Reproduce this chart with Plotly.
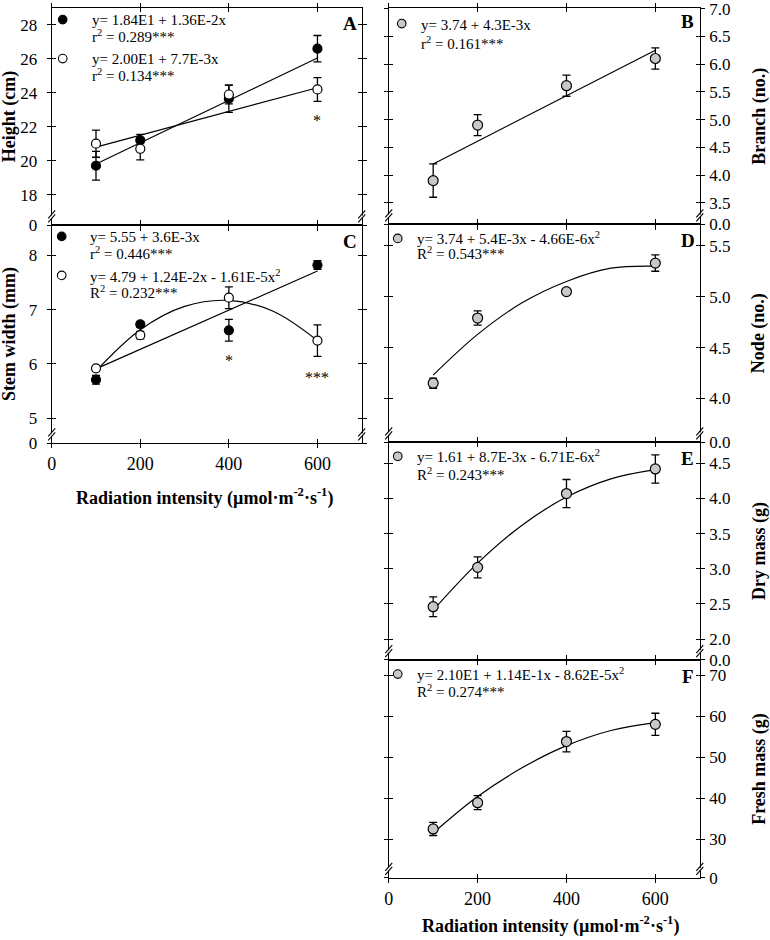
import plotly.graph_objects as go

W, H = 770, 940
FONT = "Liberation Serif, Times New Roman, serif"

# ---------------- data ----------------
radiation = [100, 200, 400, 600]
x_ticks = [0, 200, 400, 600]
x_ticktext = ["0", "200", "400", "600"]
fit_x_lin = [100, 600]
fit_x_quad = [100, 200, 300, 400, 500, 600]

# A: Height (cm)
height_closed = [19.7, 21.2, 23.65, 26.6]
height_closed_err = [0.85, 0.35, 0.8, 0.78]
height_open = [21.0, 20.7, 23.9, 24.2]
height_open_err = [0.8, 0.65, 0.55, 0.7]
height_fit_closed = [19.8, 26.05]
height_fit_open = [20.8, 24.3]
height_ticks = [18, 20, 22, 24, 26, 28]
height_ticktext = ["18", "20", "22", "24", "26", "28"]

# B: Branch (no.)
branch = [3.9, 4.9, 5.61, 6.1]
branch_err = [0.3, 0.19, 0.19, 0.19]
branch_fit = [4.2, 6.25]
branch_ticks = [3.5, 4.0, 4.5, 5.0, 5.5, 6.0, 6.5, 7.0]
branch_ticktext = ["3.5", "4.0", "4.5", "5.0", "5.5", "6.0", "6.5", "7.0"]

# C: Stem width (mm)
stem_closed = [5.71, 6.73, 6.62, 7.82]
stem_closed_err = [0.08, 0.05, 0.2, 0.08]
stem_open = [5.92, 6.53, 7.22, 6.43]
stem_open_err = [0.05, 0.07, 0.2, 0.29]
stem_fit_closed = [5.91, 7.71]
stem_fit_open = [5.87, 6.63, 7.06, 7.17, 6.97, 6.43]
stem_ticks = [5, 6, 7, 8]
stem_ticktext = ["5", "6", "7", "8"]

# D: Node (no.)
node = [4.15, 4.79, 5.05, 5.33]
node_err = [0.05, 0.07, 0.02, 0.08]
node_fit = [4.23, 4.63, 4.94, 5.15, 5.28, 5.30]
node_ticks = [4.0, 4.5, 5.0, 5.5]
node_ticktext = ["4.0", "4.5", "5.0", "5.5"]

# E: Dry mass (g)
dry = [2.46, 3.02, 4.07, 4.42]
dry_err = [0.14, 0.15, 0.2, 0.2]
dry_fit = [2.41, 3.08, 3.62, 4.02, 4.28, 4.41]
dry_ticks = [2.0, 2.5, 3.0, 3.5, 4.0, 4.5]
dry_ticktext = ["2.0", "2.5", "3.0", "3.5", "4.0", "4.5"]

# F: Fresh mass (g)
fresh = [32.5, 38.9, 53.8, 58.0]
fresh_err = [1.6, 1.7, 2.5, 2.7]
fresh_fit = [31.5, 40.4, 47.4, 52.8, 56.5, 58.4]
fresh_ticks = [30, 40, 50, 60, 70]
fresh_ticktext = ["30", "40", "50", "60", "70"]

# ---------------- helpers ----------------
# compensation for the way the page gets photographed
Y_OFF, Y_SCALE = 7.4, 0.9816
X_OFF, X_SCALE = 5.3, 0.9934


def fx(p):
    v = ((p - X_OFF) / X_SCALE) / W
    return min(1.0, max(0.0, v))


def fy(p):
    v = 1 - ((p - Y_OFF) / Y_SCALE) / H
    return min(1.0, max(0.0, v))


LEFT = (52, 362)
RIGHT = (389, 700)

panels = [
    dict(n=1, letter="A", col=LEFT, top=7, bot=225, rng=[16.18, 29.0], ticks=height_ticks,
         ticktext=height_ticktext, zero="0", side="left", xlabels=False, title="Height (cm)"),
    dict(n=2, letter="C", col=LEFT, top=225, bot=443, rng=[4.54, 8.55], ticks=stem_ticks,
         ticktext=stem_ticktext, zero="0", side="left", xlabels=True, title="Stem width (mm)"),
    dict(n=3, letter="B", col=RIGHT, top=7, bot=224, rng=[3.11, 7.01], ticks=branch_ticks,
         ticktext=branch_ticktext, zero="0.0", side="right", xlabels=False, title="Branch (no.)"),
    dict(n=4, letter="D", col=RIGHT, top=224, bot=442, rng=[3.57, 5.71], ticks=node_ticks,
         ticktext=node_ticktext, zero="0.0", side="right", xlabels=False, title="Node (no.)"),
    dict(n=5, letter="E", col=RIGHT, top=442, bot=660, rng=[1.70, 4.80], ticks=dry_ticks,
         ticktext=dry_ticktext, zero="0.0", side="right", xlabels=False, title="Dry mass (g)"),
    dict(n=6, letter="F", col=RIGHT, top=660, bot=878, rng=[20.56, 73.66], ticks=fresh_ticks,
         ticktext=fresh_ticktext, zero="0", side="right", xlabels=True, title="Fresh mass (g)"),
]

fig = go.Figure()
layout = dict(
    width=W, height=H, margin=dict(l=0, r=0, t=0, b=0),
    paper_bgcolor="white", plot_bgcolor="white", showlegend=False,
    font=dict(family=FONT, color="black", size=15),
)
shapes = []
annotations = []

for p in panels:
    n = p["n"]
    o = n + 6
    xdom = [fx(p["col"][0]), fx(p["col"][1])]
    ydom = [fy(p["bot"]), fy(p["top"])]
    ytv = [p["rng"][0] + 0.0005 * (p["rng"][1] - p["rng"][0])] + p["ticks"]
    ytt = [p["zero"]] + p["ticktext"]
    common = dict(showgrid=False, zeroline=False, showline=True, linecolor="black",
                  linewidth=1.3, ticklen=4, tickwidth=1.2, tickcolor="black", mirror="ticks")
    layout[f"xaxis{n}"] = dict(domain=xdom, anchor=f"y{n}", range=[0, 700], tickmode="array",
                               tickvals=x_ticks, ticktext=x_ticktext, ticks="outside",
                               showticklabels=p["xlabels"], tickfont=dict(size=18, family=FONT),
                               ticklabelstandoff=0, ticklabeloverflow="allow", **common)
    layout[f"yaxis{n}"] = dict(domain=ydom, anchor=f"x{n}", range=p["rng"], tickmode="array",
                               tickvals=ytv, ticktext=ytt, ticks="outside", side=p["side"],
                               tickfont=dict(size=17, family=FONT), ticklabeloverflow="allow",
                               ticklabelstandoff=(6 if p["side"] == "left" else 1), **common)
    layout[f"xaxis{o}"] = dict(overlaying=f"x{n}", anchor=f"y{o}", range=[0, 700], tickmode="array",
                               tickvals=x_ticks, ticks="inside", showticklabels=False, **common)
    layout[f"yaxis{o}"] = dict(overlaying=f"y{n}", anchor=f"x{o}", range=p["rng"], tickmode="array",
                               tickvals=ytv, ticks="inside", side=p["side"], showticklabels=False,
                               **common)
    fig.add_trace(go.Scatter(x=[], y=[], xaxis=f"x{o}", yaxis=f"y{o}", hoverinfo="skip"))

    # axis breaks on both vertical sides
    yb = p["bot"]
    for xa in p["col"]:
        shapes.append(dict(type="rect", xref="paper", yref="paper", layer="above",
                           x0=fx(xa - 2), x1=fx(xa + 2), y0=fy(yb - 7.5), y1=fy(yb - 10),
                           fillcolor="white", line=dict(width=0)))
        for d in (0, 4):
            shapes.append(dict(type="line", xref="paper", yref="paper", layer="above",
                               x0=fx(xa - 3.5), y0=fy(yb - 3 - d), x1=fx(xa + 3.5), y1=fy(yb - 11 - d),
                               line=dict(color="black", width=1.1)))

    # panel letter
    annotations.append(dict(xref="paper", yref="paper", x=fx(p["col"][1] - 12),
                            y=fy((p["top"] + 16) if n != 3 else 21), text=f"<b>{p['letter']}</b>",
                            showarrow=False, xanchor="center", yanchor="middle",
                            font=dict(size=19, family=FONT)))
    # y title
    tx = 10 if p["side"] == "left" else 759
    annotations.append(dict(xref="paper", yref="paper", x=fx(tx), y=fy((p["top"] + p["bot"]) / 2),
                            text=f"<b>{p['title']}</b>", textangle=-90, showarrow=False,
                            xanchor="center", yanchor="middle", font=dict(size=18, family=FONT)))


def err(arr):
    return dict(type="data", array=arr, visible=True, color="black", thickness=1.3, width=4)


def fitline(x, y, n, spline=False):
    fig.add_trace(go.Scatter(x=x, y=y, mode="lines", xaxis=f"x{n}", yaxis=f"y{n}",
                             line=dict(color="black", width=1.2,
                                       shape="spline" if spline else "linear"),
                             hoverinfo="skip"))


def pts(y, e, n, fill, size=9):
    fig.add_trace(go.Scatter(x=radiation, y=y, mode="markers", xaxis=f"x{n}", yaxis=f"y{n}",
                             error_y=err(e),
                             marker=dict(color=fill, size=size, line=dict(color="black", width=1.2))))


GRAY = "#c8c8c8"
# A
fitline(fit_x_lin, height_fit_closed, 1)
fitline(fit_x_lin, height_fit_open, 1)
pts(height_closed, height_closed_err, 1, "black")
pts(height_open, height_open_err, 1, "white")
# C
fitline(fit_x_lin, stem_fit_closed, 2)
fitline(fit_x_quad, stem_fit_open, 2, spline=True)
pts(stem_closed, stem_closed_err, 2, "black")
pts(stem_open, stem_open_err, 2, "white")
# B
fitline(fit_x_lin, branch_fit, 3)
pts(branch, branch_err, 3, GRAY, 10)
# D
fitline(fit_x_quad, node_fit, 4, spline=True)
pts(node, node_err, 4, GRAY, 10)
# E
fitline(fit_x_quad, dry_fit, 5, spline=True)
pts(dry, dry_err, 5, GRAY, 10)
# F
fitline(fit_x_quad, fresh_fit, 6, spline=True)
pts(fresh, fresh_err, 6, GRAY, 10)

# significance asterisks
sig = [(1, 600, 22.6, "*"), (2, 400, 6.13, "*"), (2, 600, 5.82, "***")]
for n, xv, yv, t in sig:
    annotations.append(dict(xref=f"x{n}", yref=f"y{n}", x=xv, y=yv, text=t, showarrow=False,
                            yshift=-4, font=dict(size=16, family=FONT)))

# equations (legend swatch, text lines)
eq_blocks = [
    ("black", 63, 19, 90, [("y= 1.84E1 + 1.36E-2x", 19), ("r<sup>2</sup> = 0.289***", 35)]),
    ("white", 63, 58, 90, [("y= 2.00E1 + 7.7E-3x", 58), ("r<sup>2</sup> = 0.134***", 74)]),
    ("black", 62, 236, 88, [("y= 5.55 + 3.6E-3x", 237), ("r<sup>2</sup> = 0.446***", 253)]),
    ("white", 62, 275, 88, [("y= 4.79 + 1.24E-2x - 1.61E-5x<sup>2</sup>", 276),
                            ("R<sup>2</sup> = 0.232***", 292)]),
    (GRAY, 402, 23, 419, [("y= 3.74 + 4.3E-3x", 24), ("r<sup>2</sup> = 0.161***", 42)]),
    (GRAY, 398, 238, 415, [("y= 3.74 + 5.4E-3x - 4.66E-6x<sup>2</sup>", 238),
                           ("R<sup>2</sup> = 0.543***", 253)]),
    (GRAY, 398, 456, 415, [("y= 1.61 + 8.7E-3x - 6.71E-6x<sup>2</sup>", 456),
                           ("R<sup>2</sup> = 0.243***", 474)]),
    (GRAY, 398, 674, 415, [("y= 2.10E1 + 1.14E-1x - 8.62E-5x<sup>2</sup>", 674),
                           ("R<sup>2</sup> = 0.274***", 691)]),
]
for fill, mx, my, tx, lines in eq_blocks:
    r = 4.3
    shapes.append(dict(type="circle", xref="paper", yref="paper", layer="above",
                       x0=fx(mx - r), x1=fx(mx + r), y0=fy(my + r), y1=fy(my - r),
                       fillcolor=fill, line=dict(color="black", width=1.1)))
    for t, ty in lines:
        annotations.append(dict(xref="paper", yref="paper", x=fx(tx), y=fy(ty), text=t,
                                showarrow=False, xanchor="left", yanchor="middle",
                                font=dict(size=15, family=FONT)))

# x titles
xtitle = "<b>Radiation intensity (µmol·m<sup>-2</sup>·s<sup>-1</sup>)</b>"
annotations.append(dict(xref="paper", yref="paper", x=fx(205), y=fy(497), text=xtitle,
                        showarrow=False, xanchor="center", yanchor="middle",
                        font=dict(size=18, family=FONT)))
annotations.append(dict(xref="paper", yref="paper", x=fx(551), y=fy(925), text=xtitle,
                        showarrow=False, xanchor="center", yanchor="middle",
                        font=dict(size=18, family=FONT)))

layout["annotations"] = annotations
layout["shapes"] = shapes
fig.update_layout(**layout)
post = ("document.documentElement.style.margin='0';document.documentElement.style.overflow='hidden';"
        "document.body.style.margin='0';document.body.style.padding='0';document.body.style.overflow='hidden';"
        "var d=document.getElementById('{plot_id}');d.style.position='absolute';d.style.left='0px';d.style.top='0px';")
fig.write_html("out.html", config={"displayModeBar": False}, post_script=post)
